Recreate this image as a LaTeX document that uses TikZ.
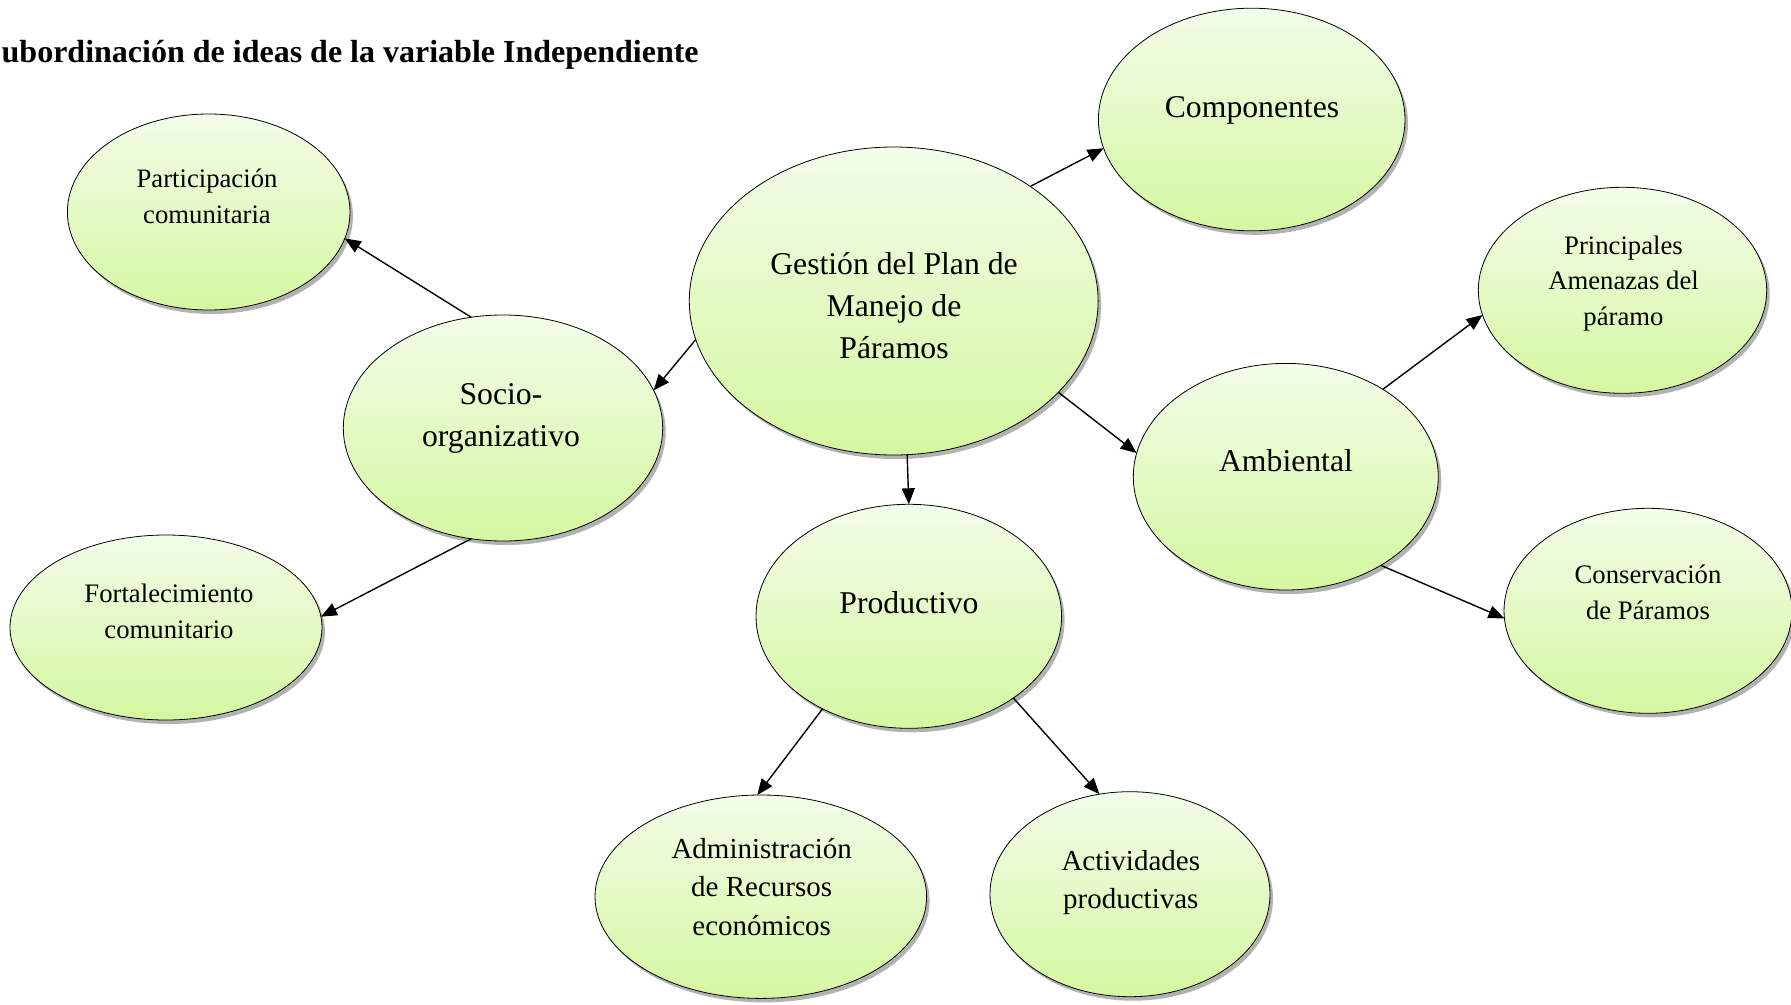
\documentclass[tikz,border=0pt]{standalone}
\usepackage{fontspec}
\setmainfont{Liberation Serif}
\usetikzlibrary{shapes.geometric,arrows.meta,shadows}
\definecolor{topg}{HTML}{F3FDE9}
\definecolor{botg}{HTML}{D4F7A0}
\tikzset{
  blob/.style={ellipse, draw=black, line width=0.8pt, inner sep=0pt, outer sep=0pt,
    top color=topg, bottom color=botg,
    drop shadow={shadow xshift=3pt, shadow yshift=-4pt, fill=black, opacity=0.3}},
  bigtxt/.style={align=center, anchor=base, inner sep=0pt, font=\fontsize{31.7}{42}\selectfont},
  medtxt/.style={align=center, anchor=base, inner sep=0pt, font=\fontsize{29}{38.3}\selectfont},
  smalltxt/.style={align=center, anchor=base, inner sep=0pt, font=\fontsize{26.7}{35.5}\selectfont},
  conn/.style={line width=1.4pt, -{Triangle[length=16pt,width=13pt]}},
}
\begin{document}
\begin{tikzpicture}[x=1pt,y=-1pt]
\fill[white] (0,0) rectangle (1791,1004);
\useasboundingbox (0,0) rectangle (1791,1004);

\node[font=\fontsize{32}{38}\selectfont\bfseries, anchor=base west, inner sep=0pt] (title) at (1.5,62) {ubordinación de ideas de la variable Independiente};

% ellipses
\node[blob, minimum width=306.6pt, minimum height=222.6pt] (comp) at (1251.7,119.5) {};
\node[blob, minimum width=408.8pt, minimum height=308pt] (gestion) at (893.7,301) {};
\node[blob, minimum width=282.6pt, minimum height=196pt] (part) at (208.7,212) {};
\node[blob, minimum width=319.4pt, minimum height=226pt] (socio) at (503,428) {};
\node[blob, minimum width=312pt, minimum height=185pt] (fort) at (166,627.5) {};
\node[blob, minimum width=288.4pt, minimum height=206pt] (princ) at (1622.5,290.3) {};
\node[blob, minimum width=305pt, minimum height=226.6pt] (amb) at (1285.8,476.7) {};
\node[blob, minimum width=288pt, minimum height=205pt] (cons) at (1648,610.8) {};
\node[blob, minimum width=305.6pt, minimum height=224pt] (prod) at (908.8,616.3) {};
\node[blob, minimum width=331.6pt, minimum height=203.4pt] (admin) at (760.8,896.7) {};
\node[blob, minimum width=280pt, minimum height=205pt] (activ) at (1130,894.2) {};

% texts
\node[bigtxt] (comp-t) at (1252,117.3) {Componentes};
\node[bigtxt] (gestion-t) at (894,358) {Gestión del Plan de\\Manejo de\\Páramos};
\node[smalltxt] (part-t) at (207,223.3) {Participación\\comunitaria};
\node[bigtxt] (socio-t) at (501,446) {Socio-\\organizativo};
\node[smalltxt] (fort-t) at (169,638.3) {Fortalecimiento\\comunitario};
\node[smalltxt] (princ-t) at (1623.5,325) {Principales\\Amenazas del\\páramo};
\node[bigtxt] (amb-t) at (1286,471) {Ambiental};
\node[smalltxt] (cons-t) at (1648,619.3) {Conservación\\de Páramos};
\node[bigtxt] (prod-t) at (909,613.3) {Productivo};
\node[medtxt] (admin-t) at (761.7,935) {Administración\\de Recursos\\económicos};
\node[medtxt] (activ-t) at (1130.8,908.3) {Actividades\\productivas};

% connectors
\draw[conn] (gestion.40.6) -- (comp.191.4);
\draw[conn] (gestion.191.6) -- (socio.14);
\draw[conn] (socio.106.2) -- (part.349.8);
\draw[conn] (socio.254.4) -- (fort.4.5);
\draw[conn] (gestion.275.2) -- (prod.90.4);
\draw[conn] (gestion.331.7) -- (amb.171.8);
\draw[conn] (amb.42.2) -- (princ.190.9);
\draw[conn] (amb.317.3) -- (cons.183.8);
\draw[conn] (prod.227.4) -- (admin.92.5);
\draw[conn] (prod.322.2) -- (activ.107.1);
\end{tikzpicture}
\end{document}
